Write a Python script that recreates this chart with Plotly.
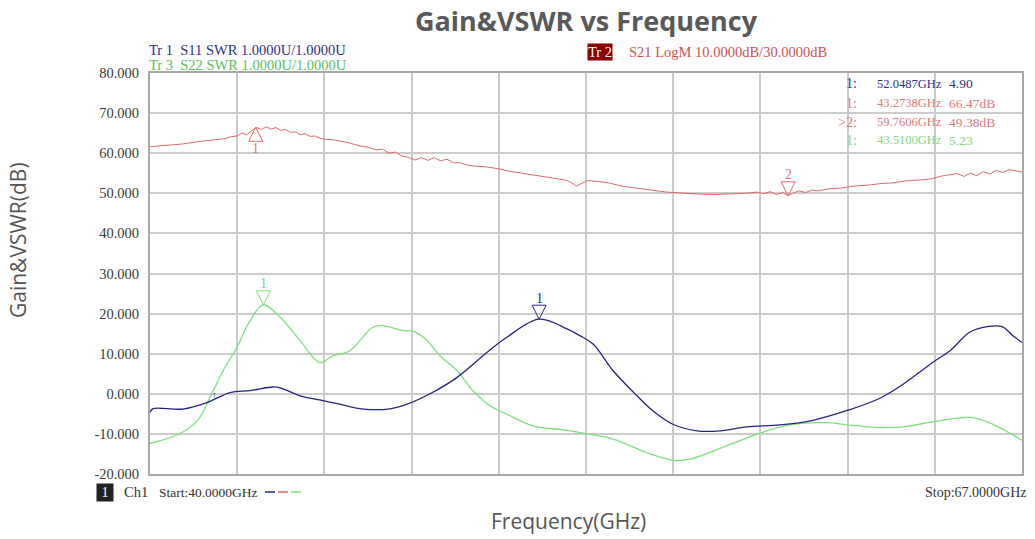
import plotly.graph_objects as go

# ---------------- data ----------------
red_f = [40.0, 40.5, 41.0, 41.5, 42.0, 42.3, 42.5, 42.7, 42.85, 43.0, 43.15, 43.3, 43.45, 43.6, 43.75,
         43.9, 44.05, 44.2, 44.35, 44.5, 44.65, 44.8, 44.95, 45.1, 45.3, 45.6, 45.9, 46.2, 46.5, 46.8,
         47.0, 47.2, 47.4, 47.6, 47.8, 48.0, 48.2, 48.4, 48.6, 48.8, 49.0, 49.2, 49.4, 49.6, 49.8,
         50.0, 50.4, 50.8, 51.2, 51.6, 52.0, 52.4, 52.8, 53.0, 53.2, 53.35, 53.55, 53.8, 54.2, 54.6,
         55.0, 55.5, 56.0, 56.5, 57.0, 57.5, 58.0, 58.4, 58.8, 59.0, 59.2, 59.4, 59.6, 59.76, 59.9,
         60.1, 60.3, 60.5, 60.7, 61.0, 61.4, 61.8, 62.2, 62.6, 63.0, 63.4, 63.8, 64.2, 64.5, 64.8,
         65.0, 65.2, 65.4, 65.6, 65.8, 66.0, 66.2, 66.4, 66.6, 66.8, 67.0]
red_v = [61.6, 61.9, 62.3, 62.9, 63.4, 63.6, 64.1, 64.3, 65.0, 64.6, 65.6, 66.4, 65.9, 66.6, 66.0,
         66.4, 65.7, 65.9, 65.2, 65.3, 64.6, 64.9, 64.2, 64.3, 63.6, 63.4, 63.0, 62.5, 61.8, 61.4,
         60.8, 61.0, 60.0, 60.3, 59.3, 59.0, 58.3, 58.9, 58.2, 58.9, 58.1, 58.5, 57.6, 57.6, 57.1,
         56.8, 56.6, 56.1, 55.4, 54.9, 54.4, 53.9, 53.4, 52.9, 51.8, 52.4, 53.2, 53.0, 52.6, 51.8,
         51.3, 50.8, 50.3, 50.0, 49.8, 49.7, 49.8, 50.0, 50.3, 49.9, 50.4, 49.7, 50.2, 49.4, 50.0,
         50.6, 50.2, 50.8, 50.6, 51.1, 51.3, 51.8, 52.0, 52.4, 52.6, 53.1, 53.3, 53.6, 54.3, 54.6,
         54.9, 54.2, 55.0, 54.4, 55.4, 54.8, 55.7, 55.2, 55.9, 55.6, 55.3]

blue_f = [40.0, 40.09, 41.02, 41.76, 42.48, 43.10, 43.81, 44.03, 44.65, 45.39, 45.88, 46.60, 47.43,
          47.96, 48.67, 49.51, 50.43, 51.05, 52.05, 52.91, 53.31, 53.72, 54.34, 55.08, 55.57, 56.19,
          56.94, 57.65, 58.48, 59.51, 60.53, 61.61, 62.60, 63.32, 64.31, 64.77, 65.39, 65.92, 66.38,
          66.72, 67.0]
blue_v = [-4.6, -3.7, -3.8, -2.2, 0.3, 0.8, 1.7, 1.5, -0.5, -1.75, -2.6, -3.8, -3.75,
          -2.6, 0.0, 4.1, 10.3, 14.1, 18.6, 16.2, 14.5, 12.4, 5.75, -0.5, -4.25, -7.6,
          -9.25, -9.25, -8.25, -7.75, -6.6, -4.1, -1.1, 2.4, 8.25, 10.75, 15.4, 16.75, 16.75,
          14.5, 12.8]

green_f = [40.0, 40.93, 41.46, 41.86, 42.26, 42.69, 43.10, 43.50, 44.03, 44.65, 45.26, 45.67, 46.19,
           46.90, 47.21, 47.83, 48.14, 48.58, 48.98, 49.51, 50.00, 50.53, 51.05, 51.86, 52.91, 53.62,
           54.34, 55.39, 56.19, 56.72, 57.96, 59.10, 59.91, 60.96, 61.58, 62.60, 63.32, 64.31, 65.39,
           66.10, 67.0]
green_v = [-12.4, -9.9, -6.75, -0.9, 5.75, 11.6, 18.25, 22.2, 19.1, 13.25, 7.8, 9.5, 10.75,
           16.6, 17.0, 15.75, 15.6, 13.25, 9.5, 5.75, 0.75, -3.0, -5.1, -8.0, -9.1, -10.1,
           -11.3, -14.7, -16.6, -16.3, -12.6, -9.25, -7.6, -7.2, -7.75, -8.4, -8.25, -6.9, -5.9,
           -7.6, -11.6]

# markers: frequency, displayed level, label, trace
mk_f = [43.2738, 59.7606, 52.0487, 43.5100]
mk_v = [66.47, 49.38, 18.6, 22.2]
mk_lab = ["1", "2", "1", "1"]
mk_trace = ["red", "red", "blue", "green"]
mk_up = [True, False, False, False]

readout_idx = ["1:", "1:", ">2:", "1:"]
readout_freq = ["52.0487GHz", "43.2738GHz", "59.7606GHz", "43.5100GHz"]
readout_val = ["4.90", "66.47dB", "49.38dB", "5.23"]
readout_trace = ["blue", "red", "red", "green"]

y_ticks = [-20, -10, 0, 10, 20, 30, 40, 50, 60, 70, 80]
y_tick_labels = ["-20.000", "-10.000", "0.000", "10.000", "20.000", "30.000",
                 "40.000", "50.000", "60.000", "70.000", "80.000"]
ref_level = 30
f_start, f_stop = 40.0, 67.0

# ---------------- styling ----------------
W, H = 1035, 539
L, R, T, B = 150, 1022, 73, 474
Y0, Y1 = -20, 80
COL = {"red": "#e06b6b", "blue": "#25257f", "green": "#7fe07f"}
TXT = {"red": "#e07a7a", "blue": "#2f2f8f", "green": "#7fd87f"}
VNA_FONT = "Liberation Serif"


def dx(p):
    return p / (R - L) * (f_stop - f_start)


def dy(p):
    return p / (B - T) * (Y1 - Y0)


def px(p):
    return (p - L) / (R - L)


def py(p):
    return (B - p) / (B - T)


fig = go.Figure()

fig.add_trace(go.Scatter(x=red_f, y=red_v, mode="lines",
                         line=dict(color=COL["red"], width=1), hoverinfo="skip"))
fig.add_trace(go.Scatter(x=green_f, y=green_v, mode="lines", line_shape="spline",
                         line=dict(color=COL["green"], width=1.3), hoverinfo="skip"))
fig.add_trace(go.Scatter(x=blue_f, y=blue_v, mode="lines", line_shape="spline",
                         line=dict(color=COL["blue"], width=1.3), hoverinfo="skip"))

annotations = []
shapes = []
# marker triangles + labels
for f, v, lab, tr, up in zip(mk_f, mk_v, mk_lab, mk_trace, mk_up):
    s = -1 if up else 1
    xs = [f, f - dx(7), f + dx(7), f]
    ys = [v, v + s * dy(14), v + s * dy(14), v]
    fig.add_trace(go.Scatter(x=xs, y=ys, mode="lines",
                             line=dict(color=COL[tr], width=1), hoverinfo="skip"))
    annotations.append(dict(x=f, y=v, xref="x", yref="y", text=lab, showarrow=False,
                            yshift=(-21 if up else 21),
                            font=dict(family=VNA_FONT, size=14, color=TXT[tr])))

# small arrow tick on S11 trace
annotations.append(dict(x=42.0, y=blue_v[3] + 2.0, xref="x", yref="y", text="↑", showarrow=False,
                        font=dict(family=VNA_FONT, size=9, color=COL["blue"])))

# reference level arrows
fig.add_trace(go.Scatter(x=[f_start - dx(6.5)], y=[ref_level], mode="markers", cliponaxis=False,
                         marker=dict(symbol="triangle-right", size=11, color="#8b0000"),
                         hoverinfo="skip"))
fig.add_trace(go.Scatter(x=[f_stop + dx(6.5)], y=[ref_level], mode="markers", cliponaxis=False,
                         marker=dict(symbol="triangle-left", size=11, color="#8b0000"),
                         hoverinfo="skip"))

# readout block
row_y = [84, 103, 122, 140]
for i in range(4):
    c = TXT[readout_trace[i]]
    annotations.append(dict(x=px(859), y=py(row_y[i]), xref="paper", yref="paper", text=readout_idx[i],
                            xanchor="right", yanchor="middle", showarrow=False,
                            font=dict(family=VNA_FONT, size=14, color=c)))
    annotations.append(dict(x=px(875), y=py(row_y[i]), xref="paper", yref="paper", text=readout_freq[i],
                            xanchor="left", yanchor="middle", showarrow=False,
                            font=dict(family=VNA_FONT, size=12.5, color=c)))
    annotations.append(dict(x=px(947), y=py(row_y[i]), xref="paper", yref="paper", text=readout_val[i],
                            xanchor="left", yanchor="middle", showarrow=False,
                            font=dict(family=VNA_FONT, size=13.5, color=c)))

# header lines
annotations.append(dict(x=px(147), y=py(50), xref="paper", yref="paper",
                        text="Tr 1  S11 SWR 1.0000U/1.0000U", xanchor="left", yanchor="middle",
                        showarrow=False, font=dict(family=VNA_FONT, size=14.5, color=TXT["blue"])))
annotations.append(dict(x=px(147), y=py(65), xref="paper", yref="paper",
                        text="Tr 3  S22 SWR 1.0000U/1.0000U", xanchor="left", yanchor="middle",
                        showarrow=False, font=dict(family=VNA_FONT, size=14.5, color="#5cc05c")))
annotations.append(dict(x=px(587), y=py(52), xref="paper", yref="paper", text="Tr 2",
                        xanchor="left", yanchor="middle", showarrow=False, bgcolor="#8b0000",
                        borderpad=0, font=dict(family=VNA_FONT, size=14.5, color="#ffffff")))
annotations.append(dict(x=px(627), y=py(52), xref="paper", yref="paper",
                        text="S21 LogM 10.0000dB/30.0000dB", xanchor="left", yanchor="middle",
                        showarrow=False, font=dict(family=VNA_FONT, size=14.5, color="#d05050")))

# footer
annotations.append(dict(x=px(96), y=py(492), xref="paper", yref="paper", text=" 1 ",
                        xanchor="left", yanchor="middle", showarrow=False, bgcolor="#222222",
                        borderpad=1, font=dict(family=VNA_FONT, size=14, color="#ffffff")))
annotations.append(dict(x=px(122), y=py(492), xref="paper", yref="paper",
                        text="Ch1", xanchor="left", yanchor="middle",
                        showarrow=False, font=dict(family=VNA_FONT, size=14.5, color="#333333")))
annotations.append(dict(x=px(157), y=py(492), xref="paper", yref="paper",
                        text="Start:40.0000GHz", xanchor="left", yanchor="middle",
                        showarrow=False, font=dict(family=VNA_FONT, size=13.5, color="#333333")))
for k, tr in enumerate(["blue", "red", "green"]):
    shapes.append(dict(type="line", xref="paper", yref="paper",
                       x0=px(265 + 13 * k), x1=px(275 + 13 * k), y0=py(492), y1=py(492),
                       line=dict(color=COL[tr], width=1.5)))
annotations.append(dict(x=px(1029), y=py(492), xref="paper", yref="paper",
                        text="Stop:67.0000GHz", xanchor="right", yanchor="middle",
                        showarrow=False, font=dict(family=VNA_FONT, size=14, color="#333333")))

# axis titles
annotations.append(dict(x=px(18), y=py(240), xref="paper", yref="paper", text="Gain&VSWR(dB)",
                        textangle=-90, showarrow=False, xanchor="center", yanchor="middle",
                        font=dict(family="Open Sans", size=21, color="#555555")))
annotations.append(dict(x=px(568), y=py(521), xref="paper", yref="paper", text="Frequency(GHz)",
                        showarrow=False, xanchor="center", yanchor="middle",
                        font=dict(family="Open Sans", size=21, color="#555555")))

fig.update_layout(
    width=W, height=H,
    margin=dict(l=L, r=W - R, t=T, b=H - B, autoexpand=False),
    paper_bgcolor="white", plot_bgcolor="white",
    showlegend=False,
    title=dict(text="<b>Gain&VSWR vs Frequency</b>", x=0.5, xref="paper", y=1 - 22 / H,
               yref="container", xanchor="center", yanchor="middle",
               font=dict(family="Open Sans", size=27, color="#595959")),
    annotations=annotations,
    shapes=shapes,
    xaxis=dict(range=[f_start, f_stop], tick0=f_start, dtick=(f_stop - f_start) / 10,
               showticklabels=False, showgrid=True, gridcolor="#cccccc", gridwidth=1.5,
               zeroline=False, showline=True, mirror=True, linecolor="#a8a8a8", linewidth=2,
               ticks=""),
    yaxis=dict(range=[Y0, Y1], tickvals=y_ticks, ticktext=y_tick_labels,
               showgrid=True, gridcolor="#cccccc", gridwidth=1.5, zeroline=False,
               showline=True, mirror=True, linecolor="#a8a8a8", linewidth=2,
               ticks="", ticklabelstandoff=6,
               tickfont=dict(family=VNA_FONT, size=14.5, color="#3a3a3a")),
)

fig.write_html("out.html", config={"displayModeBar": False},
               post_script="document.body.style.margin='0px';document.body.style.overflow='hidden';")
